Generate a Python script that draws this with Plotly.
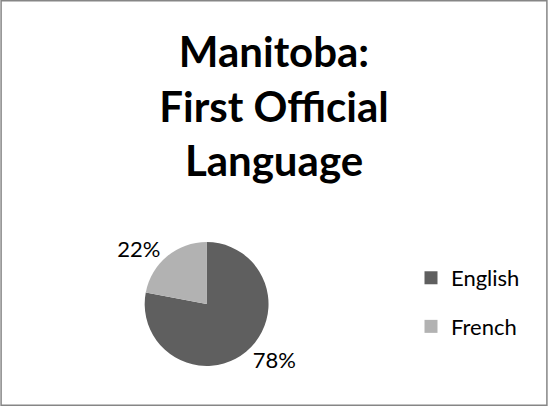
import plotly.graph_objects as go

# data
languages = ["English", "French"]
shares = [78, 22]
colors = ["#5f5f5f", "#b2b2b2"]

title_text = "Manitoba:<br>First Official<br>Language"
FONT = "Lato, 'Open Sans', sans-serif"

fig = go.Figure()

fig.add_trace(go.Pie(
    labels=languages,
    values=shares,
    marker=dict(colors=colors, line=dict(width=0)),
    sort=False,
    direction="clockwise",
    rotation=0,
    textinfo="percent",
    textposition="outside",
    textfont=dict(size=22, color="#000000", family=FONT),
    showlegend=False,
    hoverinfo="label+percent",
    domain=dict(x=[0.264, 0.490], y=[0.0985, 0.404]),
))

# legend entries (square swatches spaced like the original)
for name, col in zip(languages, colors):
    fig.add_trace(go.Scatter(
        x=[None], y=[None],
        mode="markers",
        marker=dict(symbol="square", size=13, color=col),
        name=name,
        legendgroup=name,
        showlegend=True,
    ))

fig.update_layout(
    width=548,
    height=406,
    margin=dict(l=0, r=0, t=0, b=0),
    paper_bgcolor="white",
    plot_bgcolor="white",
    font=dict(family=FONT, color="#000000"),
    title=dict(
        text=title_text,
        x=0.5,
        xanchor="center",
        y=0.835,
        yanchor="top",
        font=dict(size=42, family=FONT, color="#000000", weight="bold"),
    ),
    xaxis=dict(visible=False),
    yaxis=dict(visible=False),
    legend=dict(
        x=0.75,
        xanchor="left",
        y=0.255,
        yanchor="middle",
        font=dict(size=22, family=FONT, color="#000000"),
        tracegroupgap=17,
        bgcolor="rgba(0,0,0,0)",
    ),
    shapes=[dict(
        type="rect", xref="paper", yref="paper",
        x0=0.002, y0=0.002, x1=0.998, y1=0.998,
        line=dict(color="#868686", width=1.5),
    )],
)

fig.write_html(
    "out.html",
    config={"displayModeBar": False},
    post_script="document.body.style.margin='0';",
)
